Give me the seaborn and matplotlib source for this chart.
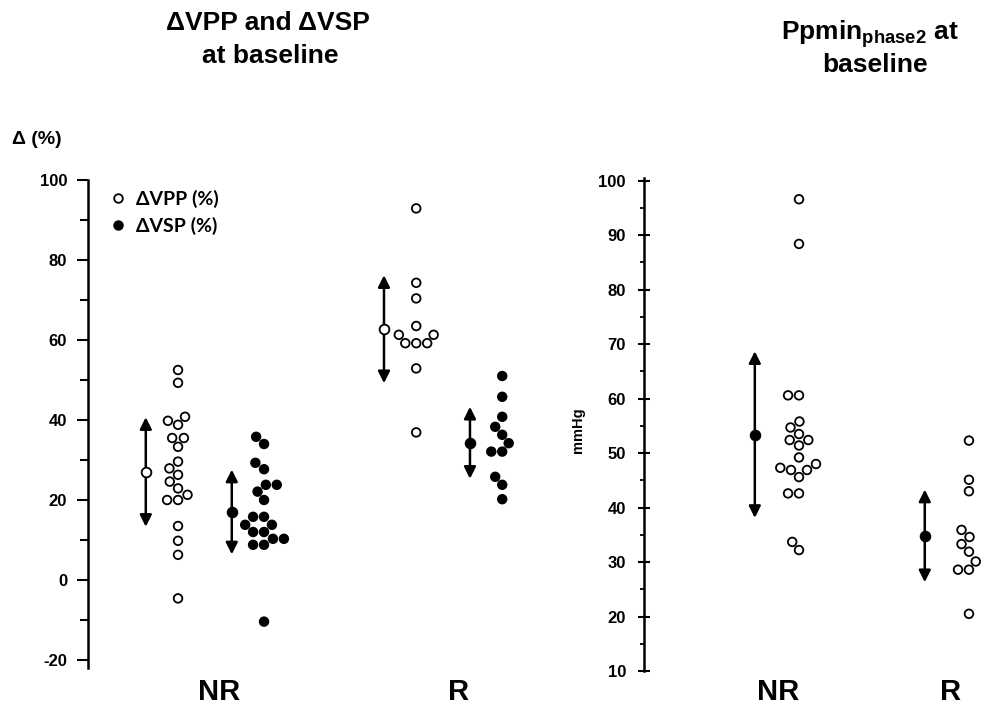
import matplotlib
matplotlib.use("Agg")
import matplotlib.pyplot as plt
import matplotlib.transforms as mtransforms
from matplotlib.lines import Line2D
import numpy as np
import pandas as pd
import seaborn as sns

sns.set_theme(style="white")
plt.rcParams["font.family"] = ["Liberation Sans", "DejaVu Sans"]
plt.rcParams["font.weight"] = "bold"
plt.rcParams["text.color"] = "black"
plt.rcParams["axes.labelcolor"] = "black"
plt.rcParams["xtick.color"] = "black"
plt.rcParams["ytick.color"] = "black"
plt.rcParams["mathtext.fontset"] = "custom"
plt.rcParams["mathtext.bf"] = "Liberation Sans:bold"
plt.rcParams["mathtext.rm"] = "Liberation Sans:bold"

# ---------------- data ----------------
groups = ["NR", "R"]
series_left = ["ΔVPP (%)", "ΔVSP (%)"]

nr_vpp = [52.5, 49.3, 40.8, 39.8, 38.8, 35.5, 35.5, 33.3, 29.6, 27.9, 26.3, 24.6,
          22.9, 21.3, 20.0, 20.0, 13.5, 9.8, 6.3, -4.6]
nr_vsp = [35.8, 34.0, 29.3, 27.7, 23.8, 23.8, 22.1, 20.0, 15.8, 15.8, 13.8, 13.8,
          12.0, 12.0, 10.3, 10.3, 8.8, 8.8, -10.4]
r_vpp = [92.9, 74.3, 70.4, 63.5, 61.3, 61.3, 59.2, 59.2, 59.2, 52.9, 36.9]
r_vsp = [51.0, 45.8, 40.8, 38.3, 36.3, 34.2, 32.1, 32.1, 25.8, 23.8, 20.2]

nr_ppmin = [96.6, 88.4, 60.6, 60.6, 55.8, 54.7, 53.5, 52.4, 52.4, 51.4, 49.2, 48.0,
            47.3, 46.9, 46.9, 45.6, 42.6, 42.6, 33.7, 32.2]
r_ppmin = [52.3, 45.1, 43.0, 35.9, 34.6, 33.3, 31.9, 30.1, 28.6, 28.6, 20.5]

# mean ± SD shown by the arrows (NR-VPP, NR-VSP, R-VPP, R-VSP)
left_means = [27.0, 17.0, 62.7, 34.3]
left_sds = [13.7, 10.6, 13.5, 9.0]
# Ppmin (NR, R)
right_means = [53.4, 34.8]
right_sds = [15.3, 8.5]

left_yticks = [-20, 0, 20, 40, 60, 80, 100]
right_yticks = [10, 20, 30, 40, 50, 60, 70, 80, 90, 100]

# ---------------- layout helpers ----------------
left_pos = {("NR", "ΔVPP (%)"): 0.0, ("NR", "ΔVSP (%)"): 1.0,
            ("R", "ΔVPP (%)"): 2.77, ("R", "ΔVSP (%)"): 3.77}
right_pos = {"NR": 0.0, "R": 1.0}
mean_offset_left = -0.375
mean_offset_right = -0.26

rows = []
for g, s, vals in [("NR", series_left[0], nr_vpp), ("NR", series_left[1], nr_vsp),
                   ("R", series_left[0], r_vpp), ("R", series_left[1], r_vsp)]:
    for v in vals:
        rows.append({"group": g, "series": s, "pos": left_pos[(g, s)], "value": v})
df_left = pd.DataFrame(rows)

rows = []
for g, vals in [("NR", nr_ppmin), ("R", r_ppmin)]:
    for v in vals:
        rows.append({"group": g, "pos": right_pos[g], "value": v, "series": "Ppmin"})
df_right = pd.DataFrame(rows)

W, H = 997, 708
fig = plt.figure(figsize=(W / 100, H / 100), dpi=100)

axL = fig.add_axes([88 / W, 40 / H, 472 / W, 488 / H])
axR = fig.add_axes([644 / W, 37 / H, 353 / W, 493 / H])

marker_size = 6.2
edge_w = 1.3

# ---------------- left panel ----------------
sns.swarmplot(data=df_left, x="pos", y="value", hue="series", native_scale=True,
              palette={series_left[0]: "white", series_left[1]: "black"},
              size=marker_size, edgecolor="black", linewidth=edge_w,
              legend=False, ax=axL, orient="x", zorder=3)

arrow_kw = dict(arrowstyle="<|-|>,head_length=0.5,head_width=0.25",
                color="black", lw=1.8, shrinkA=0, shrinkB=0, mutation_scale=14)

keys = [("NR", series_left[0]), ("NR", series_left[1]),
        ("R", series_left[0]), ("R", series_left[1])]
for k, m, sd in zip(keys, left_means, left_sds):
    x = left_pos[k] + mean_offset_left
    axL.annotate("", xy=(x, m + sd), xytext=(x, m - sd), arrowprops=arrow_kw, zorder=2)
    face = "white" if k[1] == series_left[0] else "black"
    axL.plot([x], [m], marker="o", ms=marker_size + 0.8, mfc=face, mec="black",
             mew=edge_w, ls="", zorder=4)

axL.set_xlim(-1.047, 4.442)
axL.set_ylim(-22, 100)
axL.set_yticks(left_yticks)
axL.set_yticklabels([str(t) for t in left_yticks])
axL.set_yticks(np.arange(-10, 100, 20), minor=True)
axL.set_xticks([])
axL.set_xlabel("")
axL.set_ylabel("")
for sp in ["top", "right", "bottom"]:
    axL.spines[sp].set_visible(False)
axL.spines["left"].set_linewidth(1.8)
axL.spines["left"].set_color("black")
axL.tick_params(axis="y", which="major", direction="out", length=8, width=1.5,
                pad=7, labelsize=12, colors="black", left=True)
axL.tick_params(axis="y", which="minor", direction="out", length=6, width=1.5,
                left=True)
for lab in axL.get_yticklabels():
    lab.set_fontweight("bold")

handles = [Line2D([], [], marker="o", ls="", mfc="white", mec="black", ms=marker_size,
                  mew=edge_w, label=series_left[0]),
           Line2D([], [], marker="o", ls="", mfc="black", mec="black", ms=marker_size,
                  mew=edge_w, label=series_left[1])]
leg = axL.legend(handles=handles, loc="upper left", bbox_to_anchor=(0.035, 0.995),
                 frameon=False, handlelength=0.6, handletextpad=0.6, labelspacing=0.45,
                 borderaxespad=0, prop={"family": ["Lato", "Liberation Sans"],
                                        "weight": "bold", "size": 14})
for t in leg.get_texts():
    t.set_color("black")

# ---------------- right panel ----------------
sns.swarmplot(data=df_right, x="pos", y="value", hue="series", native_scale=True,
              palette={"Ppmin": "white"}, size=marker_size, edgecolor="black",
              linewidth=edge_w, legend=False, ax=axR, orient="x", zorder=3)

for g, m, sd in zip(groups, right_means, right_sds):
    x = right_pos[g] + mean_offset_right
    axR.annotate("", xy=(x, m + sd), xytext=(x, m - sd), arrowprops=arrow_kw, zorder=2)
    axR.plot([x], [m], marker="o", ms=marker_size + 0.8, mfc="black", mec="black",
             mew=edge_w, ls="", zorder=4)

axR.set_xlim(-0.912, 1.165)
axR.set_ylim(10, 100.5)
axR.set_yticks(right_yticks)
axR.set_yticklabels([str(t) for t in right_yticks])
axR.set_yticks(np.arange(15, 100, 10), minor=True)
axR.set_xticks([])
axR.set_xlabel("")
axR.set_ylabel("")
for sp in ["top", "right", "bottom"]:
    axR.spines[sp].set_visible(False)
axR.spines["left"].set_linewidth(1.8)
axR.spines["left"].set_color("black")
axR.tick_params(axis="y", which="major", direction="inout", length=8, width=1.5,
                pad=9, labelsize=12, colors="black", left=True)
axR.tick_params(axis="y", which="minor", direction="out", length=3, width=1.3,
                left=True)
for lab in axR.get_yticklabels():
    lab.set_fontweight("bold")

# ---------------- texts ----------------
def fy(px):
    return 1 - px / H

fig.text(268 / W, fy(30), "ΔVPP and ΔVSP", ha="center", va="baseline",
         fontsize=19, weight="bold")
fig.text(270 / W, fy(63), "at baseline", ha="center", va="baseline",
         fontsize=19, weight="bold")
fig.text(870 / W, fy(39), r"Ppmin$_{\mathbf{phase2}}$ at", ha="center", va="baseline",
         fontsize=19, weight="bold")
fig.text(875 / W, fy(72), "baseline", ha="center", va="baseline",
         fontsize=19, weight="bold")

fig.text(12 / W, fy(140), "Δ (%)", ha="left", va="center", fontsize=14, weight="bold")
fig.text(578 / W, fy(430), "mmHg", ha="center", va="center", rotation=90,
         fontsize=10.5, weight="bold")

trL = mtransforms.blended_transform_factory(axL.transData, fig.transFigure)
trR = mtransforms.blended_transform_factory(axR.transData, fig.transFigure)
for g, x in zip(groups, [0.48, 3.26]):
    axL.text(x, fy(700), g, transform=trL, ha="center", va="baseline",
             fontsize=21, weight="bold")
for g, x in zip(groups, [-0.12, 0.89]):
    axR.text(x, fy(700), g, transform=trR, ha="center", va="baseline",
             fontsize=21, weight="bold")

fig.savefig("out.png", dpi=100, facecolor="white")
